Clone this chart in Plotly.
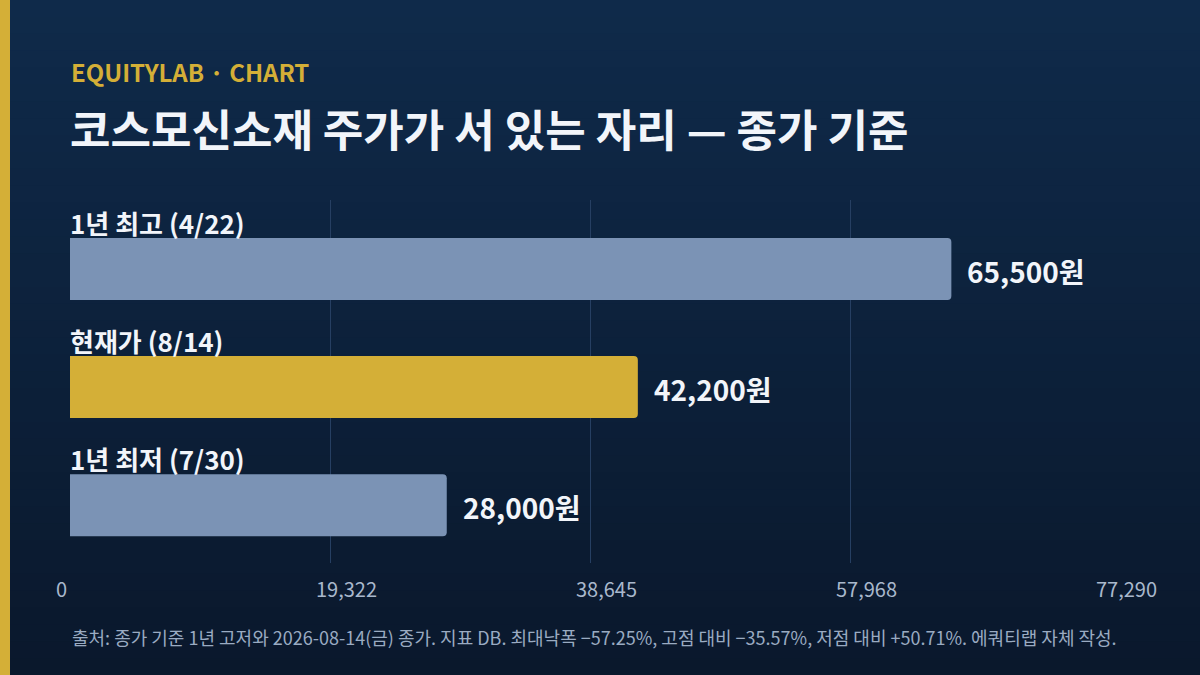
import plotly.graph_objects as go

# 데이터
labels = ["1년 최고 (4/22)", "현재가 (8/14)", "1년 최저 (7/30)"]
prices = [65500, 42200, 28000]
bar_colors = ["#7b93b5", "#d4af37", "#7b93b5"]
axis_max = 77290
tick_vals = [0, 19322.5, 38645, 57967.5, 77290]
tick_text = ["0", "19,322", "38,645", "57,968", "77,290"]

FONT = "Noto Sans CJK KR"
BAR_W = 0.525
PLOT_H = 363  # 플롯 영역 높이(px), paper 좌표 계산용
pos = list(range(len(labels)))

fig = go.Figure()

fig.add_trace(go.Bar(
    x=prices, y=pos, orientation="h",
    width=BAR_W,
    marker=dict(color=bar_colors, line=dict(width=0), cornerradius=4),
    hoverinfo="skip",
))

# 막대 위 라벨, 오른쪽 값
for i, (lab, p) in enumerate(zip(labels, prices)):
    fig.add_annotation(x=0, y=i - BAR_W / 2, text=f"<b>{lab}</b>",
                       xanchor="left", yanchor="bottom", showarrow=False,
                       font=dict(family=FONT, size=26, color="#f2f5fa"),
                       xshift=-2, yshift=-5)
    fig.add_annotation(x=p, y=i, text=f"<b>{p:,}원</b>",
                       xanchor="left", yanchor="middle", showarrow=False,
                       font=dict(family=FONT, size=28, color="#f2f5fa"),
                       xshift=14, yshift=-2)

# 배경 그라데이션 (띠 여러 개)
top = (15, 42, 74)
bot = (10, 24, 44)
n = 40
y_top, y_bot = 1 + 200 / PLOT_H, -112 / PLOT_H
shapes = []
for k in range(n):
    t = k / (n - 1)
    c = tuple(round(top[j] + (bot[j] - top[j]) * t) for j in range(3))
    y1 = y_top - (y_top - y_bot) * k / n
    y0 = y_top - (y_top - y_bot) * (k + 1) / n - 0.003
    shapes.append(dict(type="rect", xref="paper", yref="paper",
                       x0=-0.1, x1=1.1, y0=y0, y1=y1,
                       fillcolor=f"rgb{c}", line=dict(width=0), layer="below"))
# 왼쪽 금색 띠
shapes.append(dict(type="rect", xref="paper", yref="paper",
                   x0=-80 / 1040, x1=-60 / 1040, y0=y_bot - 0.05, y1=y_top + 0.05,
                   fillcolor="#d4af37", line=dict(width=0), layer="above"))

fig.add_annotation(xref="paper", yref="paper", x=0, y=1 + 129 / PLOT_H,
                   text="<b>EQUITYLAB · CHART</b>", xanchor="left", yanchor="middle",
                   xshift=-1, showarrow=False,
                   font=dict(family=FONT, size=24, color="#d4af37"))
fig.add_annotation(xref="paper", yref="paper", x=0, y=1 + 72 / PLOT_H,
                   text="<b>코스모신소재 주가가 서 있는 자리 — 종가 기준</b>",
                   xanchor="left", yanchor="middle", xshift=-2,
                   showarrow=False, font=dict(family=FONT, size=44, color="#f2f5fa"))
fig.add_annotation(xref="paper", yref="paper", x=0, y=-74 / PLOT_H,
                   text="출처: 종가 기준 1년 고저와 2026-08-14(금) 종가. 지표 DB. 최대낙폭 −57.25%, 고점 대비 −35.57%, 저점 대비 +50.71%. 에쿼티랩 자체 작성.",
                   xanchor="left", yanchor="middle",
                   showarrow=False, font=dict(family=FONT, size=18, color="#9aabc2"))

fig.update_layout(
    width=1200, height=675,
    margin=dict(l=70, r=90, t=200, b=112),
    paper_bgcolor="#0d2140", plot_bgcolor="rgba(0,0,0,0)",
    showlegend=False,
    shapes=shapes,
    font=dict(family=FONT),
)
fig.update_xaxes(range=[0, axis_max], tickvals=tick_vals, ticktext=tick_text,
                 showgrid=True, gridcolor="#263f62", gridwidth=1,
                 zeroline=False, showline=False, ticks="",
                 ticklabelposition="outside right", ticklabelshift=-14,
                 ticklabelstandoff=13,
                 tickfont=dict(family=FONT, size=20, color="#a9b8cc"))
fig.update_yaxes(range=[2.49, -0.585], showgrid=False, zeroline=False,
                 showticklabels=False, ticks="")

fig.write_html("out.html", config={"displayModeBar": False},
               post_script="document.body.style.margin='0';")
